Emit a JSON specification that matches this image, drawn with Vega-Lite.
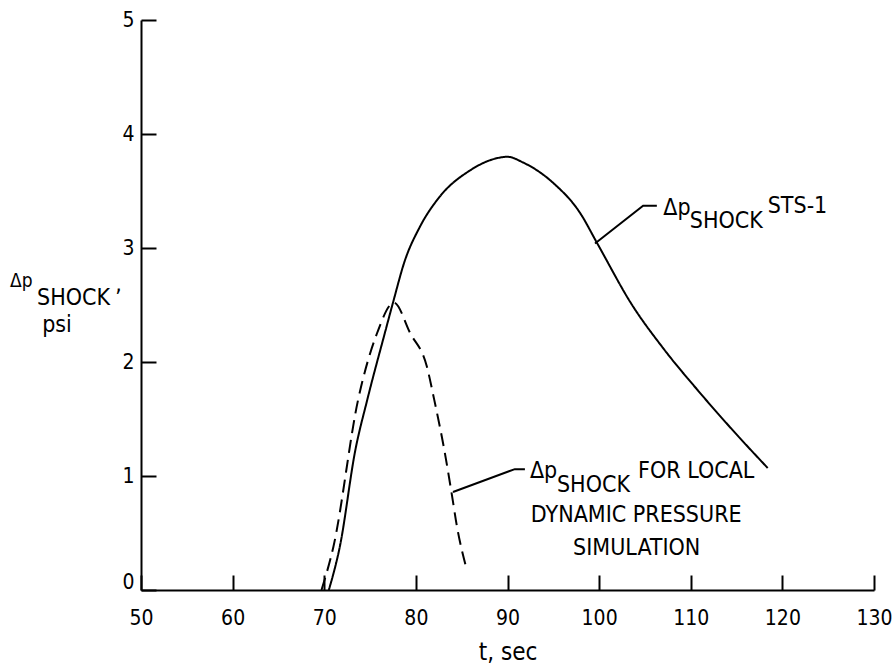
{
  "$schema": "https://vega.github.io/schema/vega-lite/v6.json",
  "width": 733,
  "height": 570,
  "autosize": {"type": "none"},
  "padding": {"left": 141, "top": 20, "right": 19, "bottom": 78},
  "background": "white",
  "config": {
    "view": {"stroke": null},
    "font": "Liberation Sans Narrow, DejaVu Sans Condensed, sans-serif",
    "axis": {
      "domainColor": "black",
      "domainWidth": 2,
      "tickColor": "black",
      "tickWidth": 2,
      "tickSize": -15,
      "grid": false,
      "labelFlush": false,
      "labelOverlap": false,
      "labelColor": "black",
      "labelFontSize": 21,
      "labelFont": "Liberation Sans Narrow, DejaVu Sans Condensed, sans-serif",
      "titleColor": "black",
      "titleFontWeight": "normal",
      "titleFont": "Liberation Sans Narrow, DejaVu Sans Condensed, sans-serif"
    }
  },
  "datasets": {
    "curves": [
      {"series": "STS-1", "t": 70.5, "dp": 0.0},
      {"series": "STS-1", "t": 71.7, "dp": 0.38},
      {"series": "STS-1", "t": 73.4, "dp": 1.23},
      {"series": "STS-1", "t": 74.7, "dp": 1.67},
      {"series": "STS-1", "t": 76.6, "dp": 2.25},
      {"series": "STS-1", "t": 77.5, "dp": 2.52},
      {"series": "STS-1", "t": 78.8, "dp": 2.89},
      {"series": "STS-1", "t": 80.4, "dp": 3.18},
      {"series": "STS-1", "t": 82.6, "dp": 3.45},
      {"series": "STS-1", "t": 85.9, "dp": 3.68},
      {"series": "STS-1", "t": 88.1, "dp": 3.77},
      {"series": "STS-1", "t": 90.0, "dp": 3.8},
      {"series": "STS-1", "t": 91.7, "dp": 3.75},
      {"series": "STS-1", "t": 95.0, "dp": 3.57},
      {"series": "STS-1", "t": 97.9, "dp": 3.31},
      {"series": "STS-1", "t": 99.8, "dp": 3.04},
      {"series": "STS-1", "t": 103.6, "dp": 2.5},
      {"series": "STS-1", "t": 107.0, "dp": 2.12},
      {"series": "STS-1", "t": 111.0, "dp": 1.73},
      {"series": "STS-1", "t": 114.6, "dp": 1.4},
      {"series": "STS-1", "t": 118.4, "dp": 1.07},
      {"series": "Local dynamic pressure simulation", "t": 69.7, "dp": 0.0},
      {"series": "Local dynamic pressure simulation", "t": 71.0, "dp": 0.38},
      {"series": "Local dynamic pressure simulation", "t": 73.7, "dp": 1.67},
      {"series": "Local dynamic pressure simulation", "t": 75.75, "dp": 2.25},
      {"series": "Local dynamic pressure simulation", "t": 77.6, "dp": 2.52},
      {"series": "Local dynamic pressure simulation", "t": 79.4, "dp": 2.25},
      {"series": "Local dynamic pressure simulation", "t": 81.2, "dp": 1.96},
      {"series": "Local dynamic pressure simulation", "t": 82.0, "dp": 1.67},
      {"series": "Local dynamic pressure simulation", "t": 83.1, "dp": 1.23},
      {"series": "Local dynamic pressure simulation", "t": 83.9, "dp": 0.85},
      {"series": "Local dynamic pressure simulation", "t": 84.5, "dp": 0.55},
      {"series": "Local dynamic pressure simulation", "t": 85.55, "dp": 0.18}
    ],
    "leaders": [
      {"leader": "STS-1", "step": 1, "t": 99.55, "dp": 3.04},
      {"leader": "STS-1", "step": 2, "t": 104.8, "dp": 3.37},
      {"leader": "STS-1", "step": 3, "t": 106.3, "dp": 3.37},
      {"leader": "local", "step": 1, "t": 84.05, "dp": 0.86},
      {"leader": "local", "step": 2, "t": 90.8, "dp": 1.06},
      {"leader": "local", "step": 3, "t": 91.9, "dp": 1.06}
    ],
    "labels_left": [
      {"text": "Δp", "t": 107.0, "dp": 3.29},
      {"text": "SHOCK", "t": 109.9, "dp": 3.175},
      {"text": "STS-1", "t": 118.4, "dp": 3.31},
      {"text": "Δp", "t": 92.45, "dp": 0.982},
      {"text": "SHOCK", "t": 95.4, "dp": 0.86},
      {"text": "FOR LOCAL", "t": 104.25, "dp": 0.982},
      {"text": "SHOCK", "t": 38.65, "dp": 2.5},
      {"text": ",", "t": 47.2, "dp": 2.62}
    ],
    "labels_centred": [
      {"text": "DYNAMIC PRESSURE", "t": 104.05, "dp": 0.596},
      {"text": "SIMULATION", "t": 104.1, "dp": 0.307},
      {"text": "psi", "t": 40.83, "dp": 2.263}
    ],
    "axis_symbol": [
      {"text": "Δp", "t": 35.7, "dp": 2.658}
    ]
  },
  "layer": [
    {
      "data": {"name": "curves"},
      "mark": {"type": "line", "color": "black", "strokeWidth": 2, "interpolate": "monotone"},
      "encoding": {
        "x": {
          "field": "t", "type": "quantitative",
          "scale": {"domain": [50, 130], "nice": false, "zero": false},
          "axis": {
            "values": [50, 60, 70, 80, 90, 100, 110, 120, 130],
            "format": "d",
            "title": "t, sec",
            "titleFontSize": 24,
            "titlePadding": 12,
            "labelPadding": 32
          }
        },
        "y": {
          "field": "dp", "type": "quantitative",
          "scale": {"domain": [0, 5], "nice": false},
          "axis": {
            "values": [0, 1, 2, 3, 4, 5],
            "format": "d",
            "title": null,
            "labelPadding": 22,
            "labelOffset": {"condition": {"test": "datum.value === 0", "value": -8}, "value": 0}
          }
        },
        "detail": {"field": "series"},
        "strokeDash": {
          "field": "series", "type": "nominal",
          "scale": {
            "domain": ["STS-1", "Local dynamic pressure simulation"],
            "range": [[1, 0], [13, 7]]
          },
          "legend": null
        }
      }
    },
    {
      "data": {"name": "leaders"},
      "mark": {"type": "line", "color": "black", "strokeWidth": 2},
      "encoding": {
        "x": {"field": "t", "type": "quantitative"},
        "y": {"field": "dp", "type": "quantitative"},
        "detail": {"field": "leader"},
        "order": {"field": "step"}
      }
    },
    {
      "data": {"name": "labels_left"},
      "mark": {"type": "text", "align": "left", "baseline": "alphabetic", "fontSize": 23, "color": "black"},
      "encoding": {
        "x": {"field": "t", "type": "quantitative"},
        "y": {"field": "dp", "type": "quantitative"},
        "text": {"field": "text"}
      }
    },
    {
      "data": {"name": "labels_centred"},
      "mark": {"type": "text", "align": "center", "baseline": "alphabetic", "fontSize": 23, "color": "black"},
      "encoding": {
        "x": {"field": "t", "type": "quantitative"},
        "y": {"field": "dp", "type": "quantitative"},
        "text": {"field": "text"}
      }
    },
    {
      "data": {"name": "axis_symbol"},
      "mark": {"type": "text", "align": "left", "baseline": "alphabetic", "fontSize": 19, "color": "black"},
      "encoding": {
        "x": {"field": "t", "type": "quantitative"},
        "y": {"field": "dp", "type": "quantitative"},
        "text": {"field": "text"}
      }
    }
  ]
}
